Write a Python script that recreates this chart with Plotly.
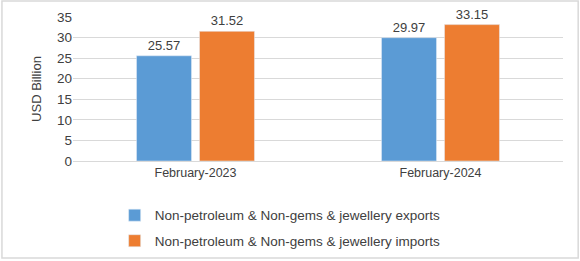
import plotly.graph_objects as go

categories = ["February-2023", "February-2024"]
exports = [25.57, 29.97]
imports = [31.52, 33.15]
series_names = ["Non-petroleum & Non-gems & jewellery exports",
                "Non-petroleum & Non-gems & jewellery imports"]

font = "Liberation Sans"
fig = go.Figure()
fig.add_trace(go.Bar(x=categories, y=exports, name=series_names[0], legendgroup="a",
                     marker_color="#5b9bd5", text=[f"{v:.2f}" for v in exports],
                     textposition="outside", cliponaxis=False,
                     textfont=dict(size=13, color="#404040", family=font)))
fig.add_trace(go.Bar(x=categories, y=imports, name=series_names[1], legendgroup="b",
                     marker_color="#ed7d31", text=[f"{v:.2f}" for v in imports],
                     textposition="outside", cliponaxis=False,
                     textfont=dict(size=13, color="#404040", family=font)))

fig.update_layout(
    width=580, height=261,
    margin=dict(l=73, r=17, t=17, b=100, autoexpand=False),
    barmode="group", bargap=0.486, bargroupgap=0.127,
    plot_bgcolor="white", paper_bgcolor="white",
    font=dict(family=font, size=12, color="#404040"),
    showlegend=True,
    legend=dict(x=0.085, y=-0.27, xanchor="left", yanchor="top",
                font=dict(size=13.5, color="#404040", family=font),
                tracegroupgap=5, itemwidth=30, traceorder="grouped"),
    xaxis=dict(showgrid=False, showline=True, linecolor="#d9d9d9",
               ticks="", tickfont=dict(size=12.5, color="#404040")),
    yaxis=dict(range=[0, 35], dtick=5, showgrid=True, gridcolor="#d9d9d9",
               zeroline=False, showline=False, ticks="",
               tickfont=dict(size=13.5, color="#404040"),
               title=dict(text="USD Billion", font=dict(size=13, color="#404040"), standoff=12)),
    shapes=[dict(type="rect", xref="paper", yref="paper",
                 x0=-0.145, x1=1.031, y0=-0.674, y1=1.111,
                 line=dict(color="#d9d9d9", width=1.5), layer="below")],
)
fig.write_html("out.html")
